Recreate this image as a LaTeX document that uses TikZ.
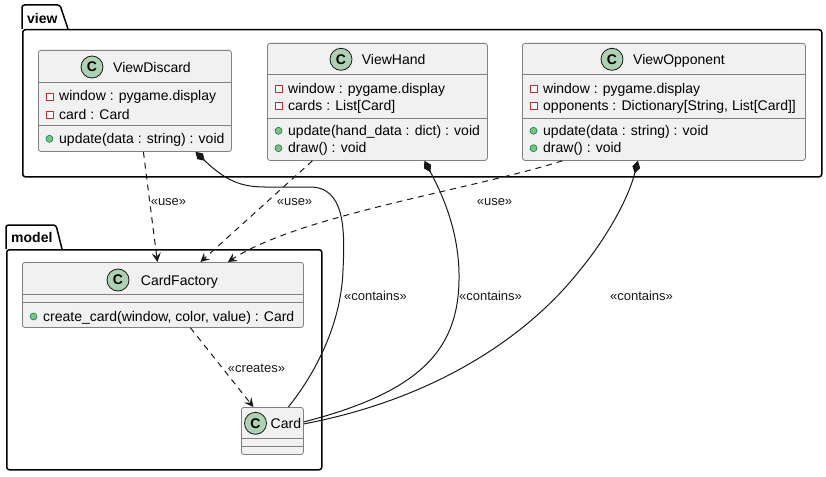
\documentclass[tikz,border=0pt]{standalone}
\usepackage{fontspec}
\setmainfont{Liberation Sans}
\usetikzlibrary{arrows.meta}
\definecolor{boxfill}{HTML}{F1F1F1}
\definecolor{ink}{HTML}{181818}
\definecolor{cfill}{HTML}{ADD1B2}
\definecolor{privred}{HTML}{C82930}
\definecolor{pubfill}{HTML}{84BE84}
\definecolor{publine}{HTML}{038048}
\tikzset{
 classbox/.style={draw=black!50, line width=0.8pt, fill=boxfill, rounded corners=2.5pt, inner sep=0, anchor=north west},
 sepline/.style={draw=black!50, line width=0.8pt},
 cicon/.style={circle, draw=ink, fill=cfill, line width=0.8pt, minimum size=22pt, inner sep=0, font=\fontsize{14}{14}\selectfont\bfseries},
 ctext/.style={anchor=base west, inner sep=0, font=\fontsize{14}{16}\selectfont, text=black},
 privicon/.style={draw=privred, line width=0.8pt, fill=white},
 pubicon/.style={draw=publine, fill=pubfill, line width=0.6pt},
 pkgtab/.style={draw=black, line width=1.5pt, fill=white, rounded corners=2.5pt},
 pkgbody/.style={draw=black, line width=1.5pt, fill=white, rounded corners=2.5pt, inner sep=0, anchor=north west},
 pkglabel/.style={anchor=base west, inner sep=0, font=\fontsize{14}{16}\selectfont\bfseries},
 dep/.style={draw=ink, line width=1pt, dash pattern=on 6pt off 5pt, -{Stealth[length=9pt,width=9pt,inset=3.5pt]}},
 comp/.style={draw=ink, line width=1pt, {Diamond[length=13pt,width=8pt]}-},
 lbl/.style={inner sep=0, font=\fontsize{13}{15}\selectfont, text=ink},
}
% #1 left x, #2 baseline y, #3 name, #4 text
\newcommand\umlpriv[4]{%
  \draw[privicon] (#1+8,#2-8) rectangle (#1+15,#2-1);
  \node[ctext] (#3) at (#1+21,#2) {#4};}
\newcommand\umlpub[4]{%
  \draw[pubicon] (#1+11.5,#2-4.5) circle (3.5pt);
  \node[ctext] (#3) at (#1+21,#2) {#4};}
\begin{document}
\begin{tikzpicture}[x=1pt,y=-1pt]
\useasboundingbox (0,0) rectangle (826,476);
% packages
\draw[pkgtab] (22,29) -- (22,5) -- (60,5) -- (68,29);
\node[pkgbody, minimum width=799pt, minimum height=147pt] (view) at (22,29) {};
\node[pkglabel] (viewlbl) at (27,23.3) {view};
\draw[pkgtab] (6,249) -- (6,225) -- (56,225) -- (62,249);
\node[pkgbody, minimum width=315pt, minimum height=220pt] (model) at (6,249) {};
\node[pkglabel] (modellbl) at (11,242.7) {model};

% ViewDiscard
\node[classbox, minimum width=193pt, minimum height=101pt] (vd) at (38,50) {};
\draw[sepline] (38,82) -- (231,82);
\draw[sepline] (38,125) -- (231,125);
\node[cicon] (vdc) at (92,67) {C};
\node[ctext] (vdn) at (113,72.3) {ViewDiscard};
\umlpriv{38}{101}{vda}{window : pygame.display}
\umlpriv{38}{119.3}{vdb}{card : Card}
\umlpub{38}{143.3}{vdm}{update(data : string) : void}

% ViewHand
\node[classbox, minimum width=220pt, minimum height=117pt] (vh) at (267,43) {};
\draw[sepline] (267,74) -- (487,74);
\draw[sepline] (267,118) -- (487,118);
\node[cicon] (vhc) at (341,59.3) {C};
\node[ctext] (vhn) at (361.7,64.3) {ViewHand};
\umlpriv{267}{93.3}{vha}{window : pygame.display}
\umlpriv{267}{110.5}{vhb}{cards : List[Card]}
\umlpub{267}{135.3}{vhm}{update(hand\_data : dict) : void}
\umlpub{267}{152.7}{vhd}{draw() : void}

% ViewOpponent
\node[classbox, minimum width=283pt, minimum height=117pt] (vo) at (522,43) {};
\draw[sepline] (522,74) -- (805,74);
\draw[sepline] (522,118) -- (805,118);
\node[cicon] (voc) at (612,59.3) {C};
\node[ctext] (von) at (633,64.3) {ViewOpponent};
\umlpriv{522}{93.3}{voa}{window : pygame.display}
\umlpriv{522}{110.5}{vob}{opponents : Dictionary[String, List[Card]]}
\umlpub{522}{135.3}{vom}{update(data : string) : void}
\umlpub{522}{152.7}{vod}{draw() : void}

% CardFactory
\node[classbox, minimum width=281pt, minimum height=65pt] (cf) at (22,262) {};
\draw[sepline] (22,294) -- (303,294);
\draw[sepline] (22,302) -- (303,302);
\node[cicon] (cfc) at (118,280) {C};
\node[ctext] (cfn) at (140.7,285.3) {CardFactory};
\umlpub{22}{321}{cfm}{create\_card(window, color, value) : Card}

% Card
\node[classbox, minimum width=62pt, minimum height=47pt] (card) at (241,407) {};
\draw[sepline] (241,438) -- (303,438);
\draw[sepline] (241,446) -- (303,446);
\node[cicon] (cardc) at (255.5,423.3) {C};
\node[ctext] (cardn) at (270.5,428.5) {Card};

% dependencies
\draw[dep] ([xshift=8.5pt]vd.south) -- ([xshift=-5.5pt]cf.north);
\draw[dep] ([xshift=-65pt]vh.south) -- ([xshift=37.5pt]cf.north);
\draw[dep] ([xshift=-101.5pt]vo.south) .. controls (470,190) and (300,215) .. ([xshift=65pt]cf.north);
\draw[dep] ([xshift=27.5pt]cf.south) -- ([xshift=-19pt]card.north);

% compositions
\draw[comp] ([xshift=60.5pt]vd.south) .. controls (225,180) and (240,187) .. (265,187) -- (310,187) .. controls (345,187) and (345,230) .. (343,270) .. controls (341,330) and (310,380) .. ([xshift=16pt]card.north);
\draw[comp] ([xshift=47pt]vh.south) .. controls (440,190) and (460,230) .. (459,280) .. controls (458,350) and (420,392) .. ([yshift=9pt]card.east);
\draw[comp] ([xshift=-26pt]vo.south) .. controls (628,200) and (605,240) .. (580,270) .. controls (525,340) and (430,400) .. ([yshift=7pt]card.east);

% labels
\node[lbl] (u1) at (168.5,202) {«use»};
\node[lbl] (u2) at (294.5,202) {«use»};
\node[lbl] (u3) at (494.5,202) {«use»};
\node[lbl] (c1) at (375.5,296) {«contains»};
\node[lbl] (c2) at (490.5,296) {«contains»};
\node[lbl] (c3) at (641.5,296) {«contains»};
\node[lbl] (cr) at (256.5,368) {«creates»};
\end{tikzpicture}
\end{document}
